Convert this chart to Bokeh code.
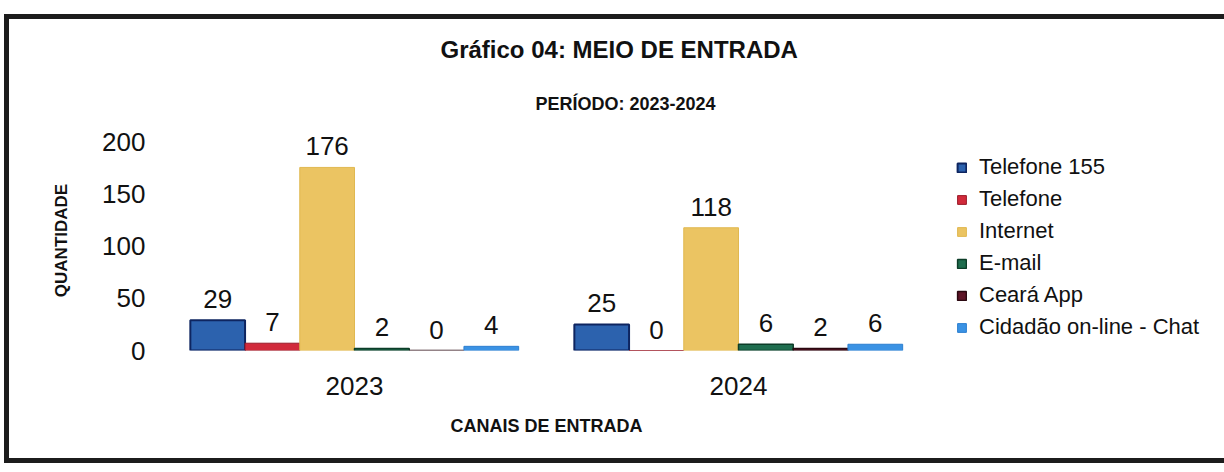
from bokeh.plotting import figure
from bokeh.models import ColumnDataSource, Range1d, Legend, LegendItem, LabelSet, Title, FixedTicker
from bokeh.transform import dodge
from bokeh.core.properties import value
from bokeh.embed import file_html
from bokeh.resources import INLINE

years = ["2023", "2024"]
channels = ["Telefone 155", "Telefone", "Internet", "E-mail", "Ceará App", "Cidadão on-line - Chat"]
telefone_155 = [29, 25]
telefone = [7, 0]
internet = [176, 118]
email = [2, 6]
ceara_app = [0, 2]
cidadao_chat = [4, 6]
y_ticks = [0, 50, 100, 150, 200]

series = [telefone_155, telefone, internet, email, ceara_app, cidadao_chat]
fills = ["#2c62ae", "#d12a3b", "#ebc462", "#1f6e4f", "#5e1527", "#3a92e4"]
lines = ["#0e2560", "#9a1a28", "#e0b850", "#0c3d28", "#2a0810", "#2d7fd0"]
line_widths = [2, 1, 1, 1.5, 1.5, 1]

FONT = "Liberation Sans"

p = figure(x_range=years, y_range=Range1d(0, 211.5), frame_width=768, frame_height=220,
           output_backend="svg", toolbar_location=None,
           min_border_left=153, min_border_right=0, min_border_top=111, min_border_bottom=108)
p.styles = {"border": "5px solid #1c1c1c", "margin-left": "4px", "margin-top": "14px"}
p.outline_line_color = None
p.xgrid.grid_line_color = None
p.ygrid.grid_line_color = None

data = {"year": years}
for i, s in enumerate(series):
    data[f"v{i}"] = s
    data[f"t{i}"] = [str(v) for v in s]
src = ColumnDataSource(data)

w = 0.1425
items = []
for i in range(6):
    off = (i - 2.5) * w
    r = p.vbar(x=dodge("year", off, range=p.x_range), top=f"v{i}", width=w, source=src,
               fill_color=fills[i], line_color=lines[i], line_width=line_widths[i])
    items.append(LegendItem(label=channels[i], renderers=[r]))
    lbl = LabelSet(x=dodge("year", off, range=p.x_range), y=f"v{i}", text=f"t{i}", source=src,
                   text_align="center", text_baseline="middle", y_offset=21,
                   text_font=value(FONT), text_font_size="26px", text_color="#111111")
    p.add_layout(lbl)

legend = Legend(items=items, location=(26, 10), margin=17, padding=6,
                glyph_width=11, glyph_height=11, label_standoff=12, spacing=6,
                label_text_font=FONT, label_text_font_size="22px", label_text_color="#111111",
                border_line_color=None, background_fill_alpha=0)
p.add_layout(legend, "right")

p.yaxis.ticker = FixedTicker(ticks=y_ticks)
for ax in (p.xaxis, p.yaxis):
    ax.axis_line_color = None
    ax.major_tick_line_color = None
    ax.minor_tick_line_color = None
    ax.major_label_text_font = FONT
    ax.major_label_text_font_size = "26px"
    ax.major_label_text_color = "#111111"
    ax.axis_label_text_font = FONT
    ax.axis_label_text_font_style = "bold"
    ax.axis_label_text_color = "#111111"

p.yaxis.major_label_standoff = 11
p.yaxis.axis_label = "QUANTIDADE"
p.yaxis.axis_label_text_font_size = "17px"
p.yaxis.axis_label_standoff = 28

p.xaxis.major_label_standoff = 20
p.xaxis.axis_label = "CANAIS DE ENTRADA"
p.xaxis.axis_label_text_font_size = "18px"
p.xaxis.axis_label_standoff = 18

p.add_layout(Title(text="PERÍODO: 2023-2024", align="left", offset=373, text_font=FONT,
                   text_font_size="18px", text_font_style="bold", text_color="#111111",
                   standoff=33), "above")
p.add_layout(Title(text="Gráfico 04: MEIO DE ENTRADA", align="left", offset=278, text_font=FONT,
                   text_font_size="24px", text_font_style="bold", text_color="#111111",
                   standoff=26), "above")

open("out.html", "w").write(file_html(p, INLINE))
